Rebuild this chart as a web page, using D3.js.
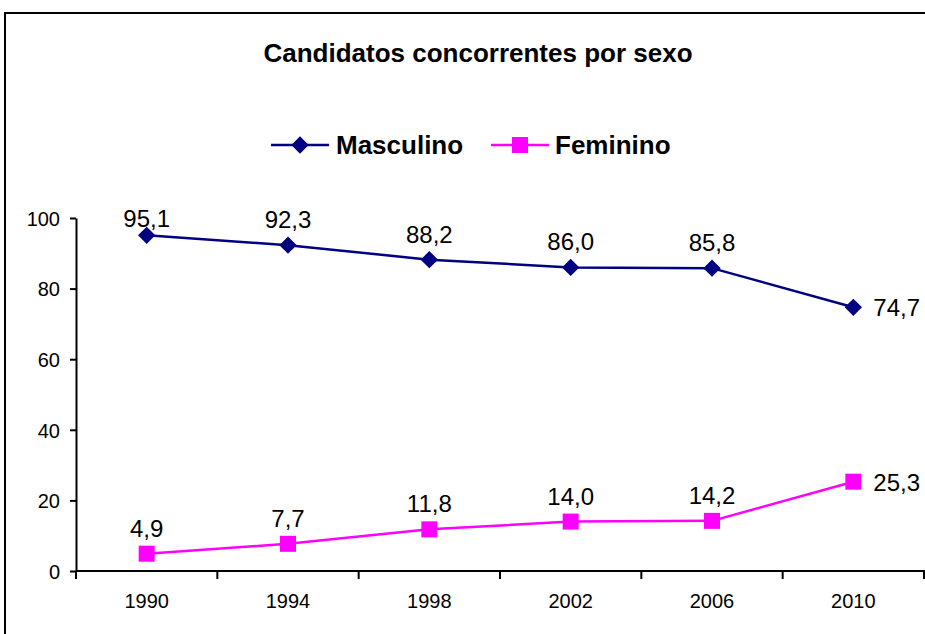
<!DOCTYPE html>
<html lang="pt">
<head>
  <meta charset="UTF-8" />
  <title>Candidatos concorrentes por sexo</title>
  <style>
    body { margin: 0; background: #fff; font-family: "Liberation Sans", Arial, sans-serif; }
    svg { display: block; }
    .frame { fill: #fff; stroke: #000; stroke-width: 2; }
    .title { font-size: 26px; font-weight: bold; fill: #000; }
    .legend-label { font-size: 26px; font-weight: bold; fill: #000; }
    .axis path, .axis line { stroke: #000; stroke-width: 2; }
    .axis text { font-size: 20px; fill: #000; font-family: "Liberation Sans", Arial, sans-serif; }
    .value-label { font-size: 24px; fill: #000; }
  </style>
</head>
<body>
  <svg width="925" height="634"></svg>

  <script src="https://d3js.org/d3.v7.min.js"></script>
  <script>
    const years = ["1990", "1994", "1998", "2002", "2006", "2010"];
    const masculino = [95.1, 92.3, 88.2, 86.0, 85.8, 74.7];
    const feminino = [4.9, 7.7, 11.8, 14.0, 14.2, 25.3];
    const yTicks = [0, 20, 40, 60, 80, 100];

    const series = [
      { name: "Masculino", values: masculino, color: "#000080", marker: "diamond" },
      { name: "Feminino", values: feminino, color: "#ff00ff", marker: "square" }
    ];

    const svg = d3.select("svg");

    // chart frame (runs off the right/bottom edge like the original)
    svg.append("rect")
      .attr("class", "frame")
      .attr("x", 5)
      .attr("y", 13)
      .attr("width", 960)
      .attr("height", 660);

    svg.append("text")
      .attr("class", "title")
      .attr("x", 478)
      .attr("y", 62)
      .attr("text-anchor", "middle")
      .text("Candidatos concorrentes por sexo");

    const plot = { left: 76, right: 924, top: 218, bottom: 571 };

    const x = d3.scaleBand()
      .domain(years)
      .range([plot.left, plot.right]);

    const y = d3.scaleLinear()
      .domain([0, 100])
      .range([plot.bottom, plot.top]);

    const fmt = v => v.toFixed(1).replace(".", ",");

    // y axis
    svg.append("g")
      .attr("class", "axis")
      .attr("transform", `translate(${plot.left},0)`)
      .call(d3.axisLeft(y).tickValues(yTicks).tickSize(6).tickSizeOuter(0).tickPadding(10))
      .call(g => g.selectAll("text").attr("dy", "0.36em"));

    // x axis: ticks sit between the categories
    const xAxis = svg.append("g")
      .attr("class", "axis")
      .attr("transform", `translate(0,${plot.bottom})`);

    xAxis.append("line")
      .attr("x1", plot.left).attr("x2", plot.right + 2);

    xAxis.selectAll(".sep")
      .data(years.concat(["end"]))
      .enter()
      .append("line")
      .attr("class", "sep")
      .attr("x1", (d, i) => plot.left + i * x.bandwidth())
      .attr("x2", (d, i) => plot.left + i * x.bandwidth())
      .attr("y1", 0)
      .attr("y2", 8);

    xAxis.selectAll(".yr")
      .data(years)
      .enter()
      .append("text")
      .attr("class", "yr")
      .attr("x", d => x(d) + x.bandwidth() / 2)
      .attr("y", 37)
      .attr("text-anchor", "middle")
      .text(d => d);

    const cx = d => x(d) + x.bandwidth() / 2;

    const line = d3.line()
      .x((d, i) => cx(years[i]))
      .y(d => y(d));

    const diamond = d3.symbol().type(d3.symbolSquare).size(150);
    const square = d3.symbol().type(d3.symbolSquare).size(256);

    function drawMarker(g, type, color) {
      if (type === "diamond") {
        g.append("path").attr("d", diamond()).attr("transform", "rotate(45)").attr("fill", color);
      } else {
        g.append("path").attr("d", square()).attr("fill", color);
      }
    }

    series.forEach(s => {
      svg.append("path")
        .datum(s.values)
        .attr("fill", "none")
        .attr("stroke", s.color)
        .attr("stroke-width", 2.5)
        .attr("d", line);

      s.values.forEach((v, i) => {
        const g = svg.append("g")
          .attr("transform", `translate(${cx(years[i])},${y(v)})`);
        drawMarker(g, s.marker, s.color);
      });

      svg.selectAll(null)
        .data(s.values)
        .enter()
        .append("text")
        .attr("class", "value-label")
        .attr("x", (d, i) => i === years.length - 1 ? cx(years[i]) + 20 : cx(years[i]))
        .attr("y", (d, i) => i === years.length - 1 ? y(d) + 9 : Math.max(y(d) - 17, 227))
        .attr("text-anchor", (d, i) => i === years.length - 1 ? "start" : "middle")
        .text(d => fmt(d));
    });

    // legend
    const legend = svg.append("g").attr("transform", "translate(0,145)");
    const legendItems = [
      { s: series[0], x: 271, textX: 336 },
      { s: series[1], x: 491, textX: 555 }
    ];
    legendItems.forEach(it => {
      legend.append("line")
        .attr("x1", it.x).attr("x2", it.x + 58)
        .attr("stroke", it.s.color)
        .attr("stroke-width", 2.5);
      const m = legend.append("g").attr("transform", `translate(${it.x + 29},0)`);
      drawMarker(m, it.s.marker, it.s.color);
      legend.append("text")
        .attr("class", "legend-label")
        .attr("x", it.textX)
        .attr("y", 9)
        .text(it.s.name);
    });
  </script>
</body>
</html>
